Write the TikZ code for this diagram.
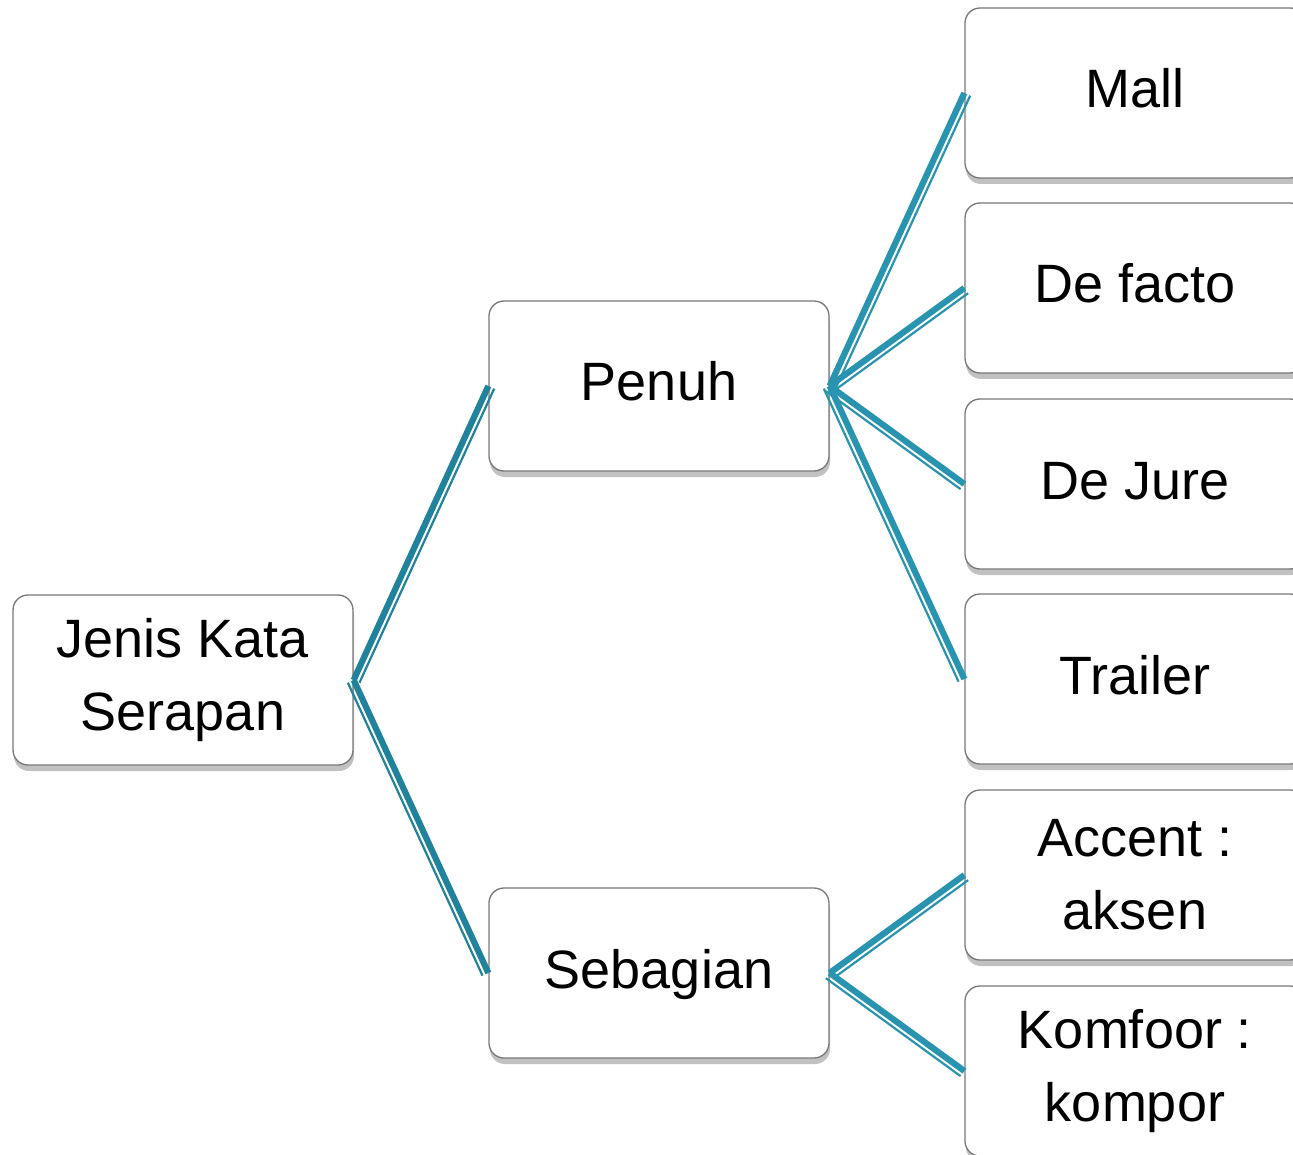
\documentclass[tikz,border=0pt]{standalone}
\usepackage{fontspec}
\setmainfont{Liberation Sans}
\usetikzlibrary{calc,shadows}
\definecolor{connA}{RGB}{33,130,155}
\definecolor{connB}{RGB}{40,148,175}
\definecolor{boxline}{RGB}{120,120,120}
\tikzset{
  box/.style={draw=boxline, line width=1.3pt, rounded corners=15pt, fill=white,
    minimum width=340pt, minimum height=170pt, align=center, inner sep=0pt,
    font=\fontsize{54}{73}\selectfont,
    drop shadow={shadow xshift=1pt, shadow yshift=-6pt, opacity=0.35, fill=black!70}},
  oneline/.style={text height=39pt, text depth=9pt},
  thickpart/.style={line width=6.2pt},
  thinpart/.style={line width=2.2pt},
}
\newcommand{\conn}[3]{%
  \draw[#1, thickpart] (#2) -- (#3);
  \draw[#1, thinpart] ($(#2)!6.4pt!-90:(#3)$) -- ($(#3)!6.4pt!90:(#2)$);
}
\begin{document}
\begin{tikzpicture}[x=1pt,y=-1pt]
\useasboundingbox (0,0) rectangle (1293,1155);
\node[box] (jenis) at (183,680) {Jenis Kata\\Serapan};
\node[box, oneline] (penuh) at (659,386) {Penuh};
\node[box, oneline] (sebagian) at (659,973) {Sebagian};
\node[box, oneline] (mall) at (1135,93) {Mall};
\node[box, oneline] (defacto) at (1135,288) {De facto};
\node[box, oneline] (dejure) at (1135,484) {De Jure};
\node[box, oneline] (trailer) at (1135,679) {Trailer};
\node[box] (accent) at (1135,875) {Accent :\\aksen};
\node[box] (komfoor) at (1135,1071) {Komfoor :\\kompor};
\conn{connA}{jenis.east}{penuh.west}
\conn{connA}{jenis.east}{sebagian.west}
\conn{connB}{penuh.east}{mall.west}
\conn{connB}{penuh.east}{defacto.west}
\conn{connB}{penuh.east}{dejure.west}
\conn{connB}{penuh.east}{trailer.west}
\conn{connB}{sebagian.east}{accent.west}
\conn{connB}{sebagian.east}{komfoor.west}
\end{tikzpicture}
\end{document}
